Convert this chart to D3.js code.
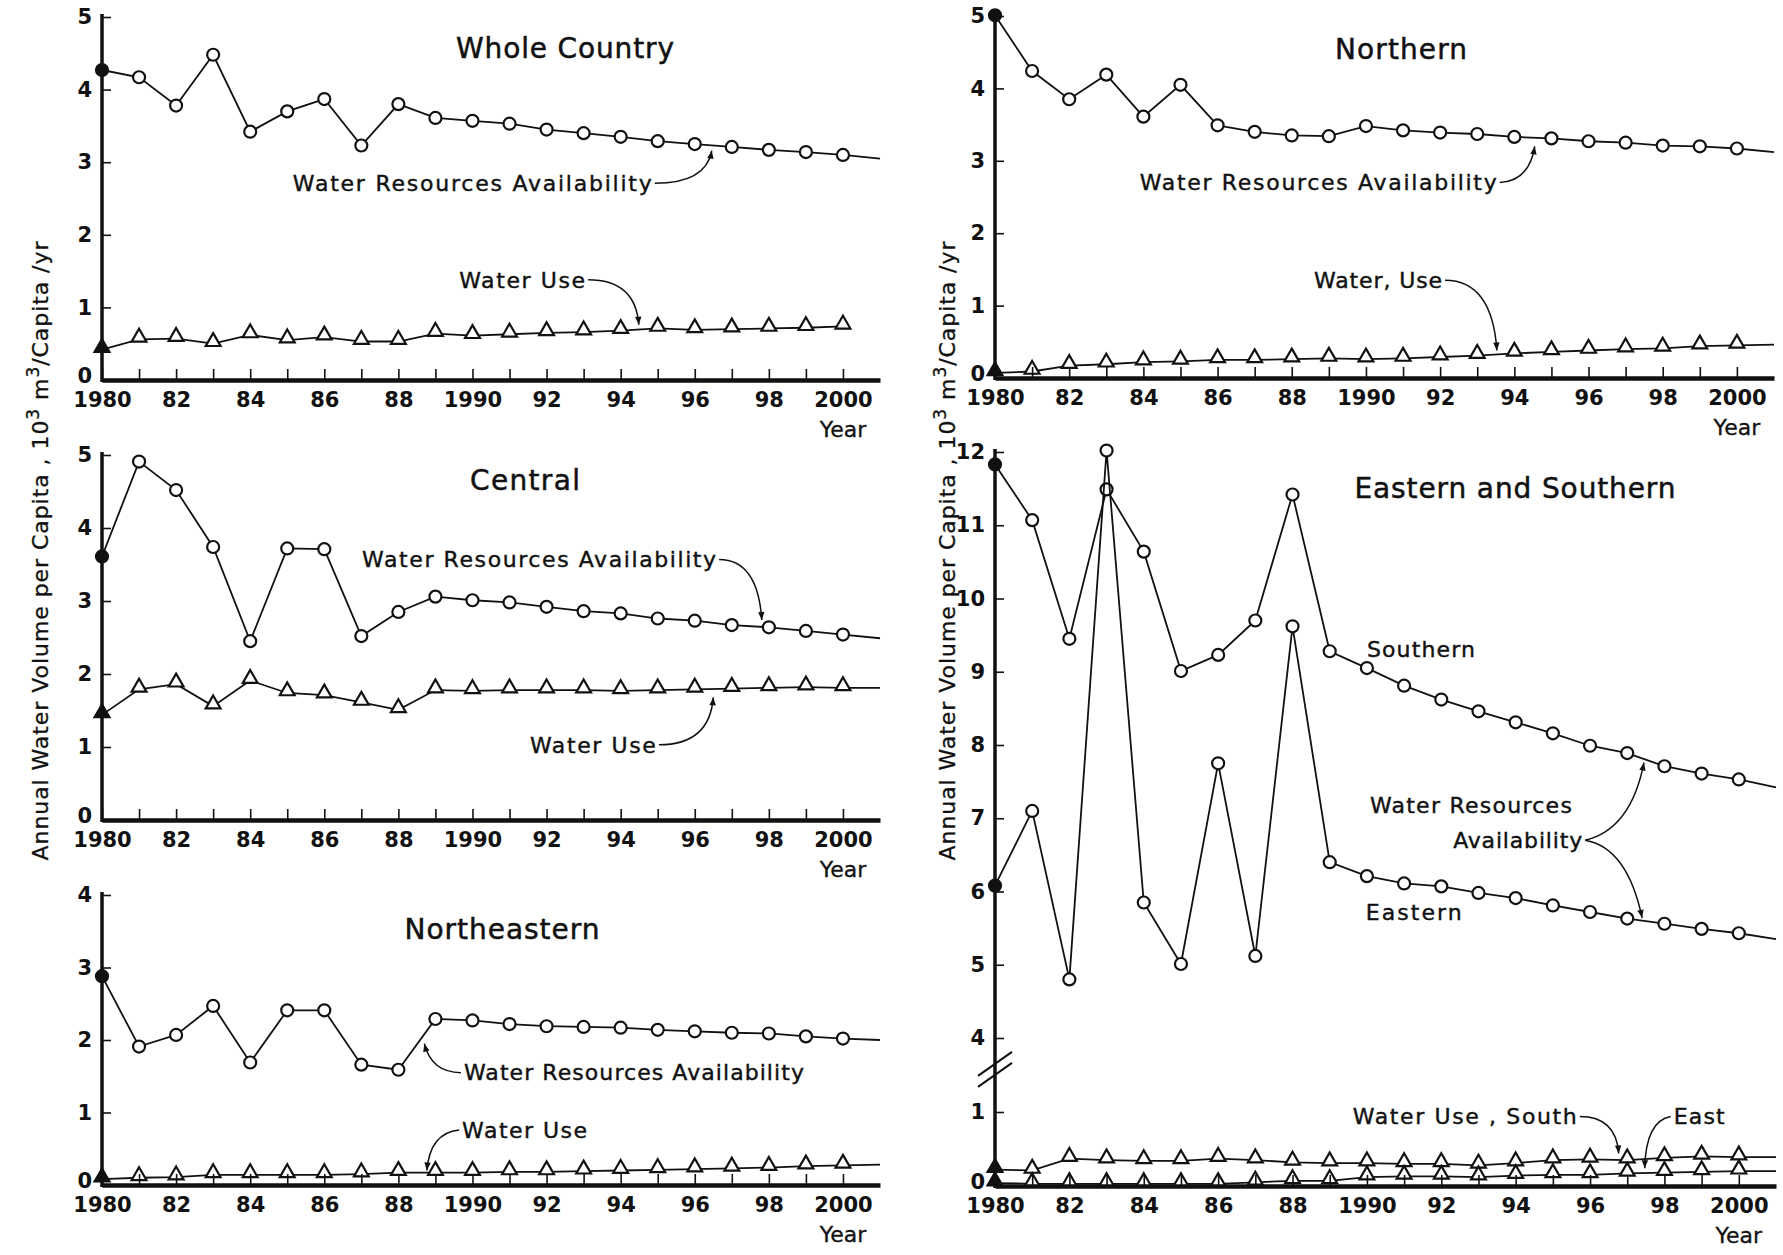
<!DOCTYPE html>
<html>
<head>
<meta charset="utf-8">
<script src="https://cdn.jsdelivr.net/npm/d3@7"></script>
<style>
  body { margin: 0; background: #fff; }
  svg { display: block; }
  text { font-family: "DejaVu Sans", sans-serif; fill: #111; }
  .tick text { font-size: 21px; font-weight: bold; fill: #111; }
  .title { font-size: 28px; }
  .note { font-size: 22px; }
  .axis-name { font-size: 22px; }
</style>
</head>
<body>
<svg id="chart" width="1783" height="1255"></svg>
<script>
// years: the last one (2001) is only where the drawn line stops, no marker there
const years = [1980, 1981, 1982, 1983, 1984, 1985, 1986, 1987, 1988, 1989, 1990,
               1991, 1992, 1993, 1994, 1995, 1996, 1997, 1998, 1999, 2000, 2001];
const tickYears = years.slice(0, 21);

// 10^3 m3 / capita / yr
const wholeAvail = [4.27, 4.17, 3.78, 4.48, 3.42, 3.70, 3.87, 3.23, 3.80, 3.61, 3.57,
                    3.53, 3.45, 3.40, 3.35, 3.29, 3.25, 3.21, 3.17, 3.14, 3.10, 3.05];
const wholeUse = [0.42, 0.56, 0.57, 0.50, 0.62, 0.55, 0.59, 0.53, 0.53, 0.64, 0.61,
                  0.63, 0.65, 0.66, 0.68, 0.71, 0.69, 0.70, 0.71, 0.72, 0.74, null];
const northAvail = [5.01, 4.24, 3.85, 4.19, 3.61, 4.05, 3.49, 3.40, 3.35, 3.34, 3.48,
                    3.42, 3.39, 3.37, 3.33, 3.31, 3.27, 3.25, 3.21, 3.20, 3.17, 3.12];
const northUse = [0.07, 0.09, 0.17, 0.19, 0.22, 0.23, 0.25, 0.25, 0.26, 0.27, 0.26,
                  0.27, 0.29, 0.31, 0.34, 0.36, 0.38, 0.40, 0.41, 0.44, 0.45, 0.46];
const centralAvail = [3.61, 4.91, 4.52, 3.74, 2.45, 3.72, 3.71, 2.52, 2.85, 3.06, 3.01,
                      2.98, 2.92, 2.86, 2.83, 2.76, 2.73, 2.67, 2.64, 2.59, 2.54, 2.49];
const centralUse = [1.44, 1.79, 1.86, 1.56, 1.91, 1.74, 1.71, 1.61, 1.51, 1.78, 1.77,
                    1.78, 1.78, 1.78, 1.77, 1.78, 1.79, 1.80, 1.81, 1.82, 1.81, 1.81];
const neAvail = [2.88, 1.91, 2.07, 2.47, 1.69, 2.41, 2.41, 1.66, 1.59, 2.29, 2.27,
                 2.22, 2.19, 2.18, 2.17, 2.14, 2.12, 2.10, 2.09, 2.05, 2.02, 2.00];
const neUse = [0.08, 0.10, 0.11, 0.14, 0.14, 0.14, 0.14, 0.15, 0.17, 0.17, 0.17,
               0.18, 0.18, 0.19, 0.20, 0.21, 0.22, 0.23, 0.24, 0.26, 0.27, 0.28];
const southAvail = [11.83, 11.07, 9.45, 11.49, 10.64, 9.01, 9.23, 9.70, 11.42, 9.28, 9.05,
                    8.81, 8.62, 8.46, 8.31, 8.16, 7.99, 7.89, 7.71, 7.61, 7.53, 7.42];
const eastAvail = [6.08, 7.10, 4.80, 12.02, 5.85, 5.01, 7.75, 5.12, 9.62, 6.40, 6.21,
                   6.11, 6.07, 5.98, 5.91, 5.81, 5.72, 5.63, 5.56, 5.49, 5.43, 5.35];
const southUse = [0.22, 0.21, 0.37, 0.35, 0.34, 0.34, 0.37, 0.35, 0.32, 0.31, 0.31,
                  0.30, 0.30, 0.28, 0.31, 0.35, 0.36, 0.35, 0.38, 0.40, 0.39, 0.39];
const eastUse = [0.04, 0.03, 0.03, 0.03, 0.03, 0.03, 0.03, 0.05, 0.07, 0.07, 0.12,
                 0.13, 0.13, 0.12, 0.14, 0.15, 0.15, 0.17, 0.18, 0.19, 0.20, 0.20];

const WRA = "Water Resources Availability";

const panels = [
    {
        title: "Whole Country", titleX: 565, titleY: 48, titleW: 218,
        left: 102, right: 880,
        bands: [{ domain: [0, 5], range: [380, 17], ticks: [0, 1, 2, 3, 4, 5] }],
        series: [{ values: wholeAvail, mark: "circle" }, { values: wholeUse, mark: "triangle" }],
        notes: [
            { text: WRA, at: [1985.15, 2.71], w: 359, arrows: [{ from: "end", ctrl: [1996.3, 2.71], tip: [1996.46, 3.16] }] },
            { text: "Water Use", at: [1989.64, 1.38], w: 126, arrows: [{ from: "end", ctrl: [1994.4, 1.38], tip: [1994.49, 0.76] }] }
        ]
    },
    {
        title: "Northern", titleX: 1401, titleY: 49, titleW: 132,
        left: 995, right: 1774,
        bands: [{ domain: [0, 5], range: [378, 16], ticks: [0, 1, 2, 3, 4, 5] }],
        series: [{ values: northAvail, mark: "circle" }, { values: northUse, mark: "triangle" }],
        notes: [
            { text: WRA, at: [1983.9, 2.70], w: 357, arrows: [{ from: "end", ctrl: [1994.4, 2.72], tip: [1994.55, 3.2] }] },
            { text: "Water, Use", at: [1988.6, 1.35], w: 128, arrows: [{ from: "end", ctrl: [1993.4, 1.35], tip: [1993.53, 0.38] }] }
        ]
    },
    {
        title: "Central", titleX: 525, titleY: 480, titleW: 110,
        left: 102, right: 880,
        bands: [{ domain: [0, 5], range: [820, 455], ticks: [0, 1, 2, 3, 4, 5] }],
        series: [{ values: centralAvail, mark: "circle" }, { values: centralUse, mark: "triangle" }],
        notes: [
            { text: WRA, at: [1987.02, 3.57], w: 354, arrows: [{ from: "end", ctrl: [1997.7, 3.57], tip: [1997.81, 2.74] }] },
            { text: "Water Use", at: [1991.55, 1.03], w: 126, arrows: [{ from: "end", ctrl: [1996.4, 1.03], tip: [1996.5, 1.68] }] }
        ]
    },
    {
        title: "Northeastern", titleX: 502, titleY: 929, titleW: 195,
        left: 102, right: 880,
        bands: [{ domain: [0, 4], range: [1185, 895], ticks: [0, 1, 2, 3, 4] }],
        series: [{ values: neAvail, mark: "circle" }, { values: neUse, mark: "triangle" }],
        notes: [
            { text: WRA, at: [1989.77, 1.55], w: 340, arrows: [{ from: "start", ctrl: [1988.9, 1.55], tip: [1988.7, 1.95] }] },
            { text: "Water Use", at: [1989.72, 0.76], w: 125, arrows: [{ from: "start", ctrl: [1988.85, 0.72], tip: [1988.77, 0.2] }] }
        ]
    },
    {
        title: "Eastern and Southern", titleX: 1515, titleY: 488, titleW: 321,
        left: 995, right: 1776,
        bands: [
            { domain: [4, 12], range: [1038, 452], ticks: [4, 5, 6, 7, 8, 9, 10, 11, 12] },
            { domain: [0, 1], range: [1186, 1112], ticks: [0, 1] }
        ],
        series: [
            { values: southAvail, mark: "circle" }, { values: eastAvail, mark: "circle" },
            { values: southUse, mark: "triangle" }, { values: eastUse, mark: "triangle" }
        ],
        notes: [
            { text: "Southern", at: [1990.0, 9.30], w: 108 },
            { text: "Water Resources", at: [1990.08, 7.18], w: 202 },
            {
                text: "Availability", at: [1992.32, 6.70], w: 129, arrows: [
                    { from: "end", ctrl: [1997.1, 6.85], tip: [1997.45, 7.76] },
                    { from: "end", ctrl: [1997.0, 6.6], tip: [1997.4, 5.64] }
                ]
            },
            { text: "Eastern", at: [1989.97, 5.72], w: 96 },
            { text: "Water Use , South", at: [1989.62, 0.94], w: 224, arrows: [{ from: "end", ctrl: [1996.7, 0.94], tip: [1996.77, 0.44] }] },
            { text: "East", at: [1998.25, 0.94], w: 51, arrows: [{ from: "start", ctrl: [1997.5, 0.88], tip: [1997.47, 0.24] }] }
        ]
    }
];

const svg = d3.select("#chart");

svg.append("defs").append("marker")
    .attr("id", "arrowhead")
    .attr("viewBox", "0 -5 10 10")
    .attr("refX", 10)
    .attr("refY", 0)
    .attr("markerWidth", 11)
    .attr("markerHeight", 8)
    .attr("markerUnits", "userSpaceOnUse")
    .attr("orient", "auto")
    .append("path")
    .attr("d", "M0,-4L10,0L0,4Z")
    .attr("fill", "#111");

function drawPanel(p) {
    const g = svg.append("g");
    const x = d3.scaleLinear().domain([1980, 2001]).range([p.left, p.right]);
    const bandScales = p.bands.map(b => d3.scaleLinear().domain(b.domain).range(b.range));

    // pick the band a value belongs to (broken axis in the last panel)
    function y(v) {
        let best = 0, bestDist = Infinity;
        p.bands.forEach((b, i) => {
            const d = v < b.domain[0] ? b.domain[0] - v : v > b.domain[1] ? v - b.domain[1] : 0;
            if (d < bestDist) { bestDist = d; best = i; }
        });
        return bandScales[best](v);
    }
    const base = d3.max(p.bands, b => b.range[0]);
    const top = d3.min(p.bands, b => b.range[1]);

    // series
    const line = d3.line()
        .defined(d => d.value != null)
        .x(d => x(d.year))
        .y(d => y(d.value));

    p.series.forEach(s => {
        const pts = years.map((yr, i) => ({ year: yr, value: s.values[i], i: i }));
        g.append("path")
            .datum(pts)
            .attr("d", line)
            .attr("fill", "none")
            .attr("stroke", "#111")
            .attr("stroke-width", 1.8);

        const marks = pts.filter(d => d.year <= 2000 && d.value != null);
        if (s.mark === "circle") {
            g.selectAll(null).data(marks).enter().append("circle")
                .attr("cx", d => x(d.year))
                .attr("cy", d => y(d.value))
                .attr("r", 6)
                .attr("fill", d => d.i === 0 ? "#111" : "#fff")
                .attr("stroke", "#111")
                .attr("stroke-width", 2.2);
        } else {
            g.selectAll(null).data(marks).enter().append("path")
                .attr("d", d3.symbol(d3.symbolTriangle, 95))
                .attr("transform", d => `translate(${x(d.year)},${y(d.value) - 2})`)
                .attr("fill", d => d.i === 0 ? "#111" : "#fff")
                .attr("stroke", "#111")
                .attr("stroke-width", 2.2);
        }
    });

    // x axis, ticks pointing up into the plot
    const xAxis = g.append("g")
        .attr("transform", `translate(0,${base})`)
        .call(d3.axisBottom(x)
            .tickValues(tickYears)
            .tickSize(-11)
            .tickSizeOuter(0)
            .tickPadding(12)
            .tickFormat(d => d % 2 ? "" : (d % 10 === 0 ? String(d) : String(d).slice(2))));
    xAxis.select(".domain").attr("stroke", "#111").attr("stroke-width", 4.5);
    xAxis.selectAll(".tick line").attr("stroke", "#111").attr("stroke-width", 1.6);
    xAxis.selectAll(".tick text").attr("font-family", null).attr("font-size", null);

    g.append("text")
        .attr("class", "axis-name")
        .attr("x", x(2000))
        .attr("y", base + 57)
        .attr("text-anchor", "middle")
        .attr("stroke", "#111")
        .attr("stroke-width", 0.3)
        .text("Year");

    // y axis, ticks pointing right into the plot
    p.bands.forEach((b, i) => {
        const ya = g.append("g")
            .attr("transform", `translate(${p.left},0)`)
            .call(d3.axisLeft(bandScales[i])
                .tickValues(b.ticks)
                .tickSize(-9)
                .tickSizeOuter(0)
                .tickPadding(10)
                .tickFormat(d3.format("d")));
        ya.select(".domain").remove();
        ya.selectAll(".tick line").attr("stroke", "#111").attr("stroke-width", 1.6);
        ya.selectAll(".tick text").attr("font-family", null).attr("font-size", null);
        ya.selectAll(".tick").filter(d => d === 0).select("text").attr("dy", "0.1em");
    });
    g.append("line")
        .attr("x1", p.left).attr("x2", p.left)
        .attr("y1", top - 3).attr("y2", base + 2)
        .attr("stroke", "#111")
        .attr("stroke-width", 3.5);

    // break marks between the two bands
    if (p.bands.length > 1) {
        const yb = p.bands[0].range[0] + 0.35 * (p.bands[1].range[1] - p.bands[0].range[0]);
        [0, 11].forEach(off => {
            g.append("line")
                .attr("x1", p.left - 17).attr("y1", yb + off + 12)
                .attr("x2", p.left + 17).attr("y2", yb + off - 12)
                .attr("stroke", "#111")
                .attr("stroke-width", 2);
        });
    }

    // title
    g.append("text")
        .attr("class", "title")
        .attr("x", p.titleX)
        .attr("y", p.titleY)
        .attr("dy", "0.35em")
        .attr("text-anchor", "middle")
        .attr("textLength", p.titleW)
        .attr("stroke", "#111")
        .attr("stroke-width", 0.5)
        .text(p.title);

    // labels and their curved arrows
    p.notes.forEach(n => {
        const tx = x(n.at[0]);
        const ty = y(n.at[1]);
        g.append("text")
            .attr("class", "note")
            .attr("x", tx)
            .attr("y", ty)
            .attr("dy", "0.35em")
            .attr("textLength", n.w)
            .attr("stroke", "#111")
            .attr("stroke-width", 0.4)
            .text(n.text);
        (n.arrows || []).forEach(a => {
            const sx = a.from === "end" ? tx + n.w + 3 : tx - 3;
            const path = d3.path();
            path.moveTo(sx, ty);
            path.quadraticCurveTo(x(a.ctrl[0]), y(a.ctrl[1]), x(a.tip[0]), y(a.tip[1]));
            g.append("path")
                .attr("d", path.toString())
                .attr("fill", "none")
                .attr("stroke", "#111")
                .attr("stroke-width", 1.5)
                .attr("marker-end", "url(#arrowhead)");
        });
    });
}

panels.forEach(drawPanel);

// shared y axis names, one on each column
[40, 947].forEach(cx => {
    const t = svg.append("text")
        .attr("class", "axis-name")
        .attr("transform", `translate(${cx},551) rotate(-90)`)
        .attr("text-anchor", "middle")
        .attr("dy", "0.35em")
        .attr("textLength", 619)
        .attr("stroke", "#111")
        .attr("stroke-width", 0.3);
    t.append("tspan").text("Annual Water Volume per Capita , 10");
    t.append("tspan").attr("dy", -9).attr("font-size", 17).text("3");
    t.append("tspan").attr("dy", 9).text(" m");
    t.append("tspan").attr("dy", -9).attr("font-size", 17).text("3");
    t.append("tspan").attr("dy", 9).text("/Capita /yr");
});
</script>
</body>
</html>
